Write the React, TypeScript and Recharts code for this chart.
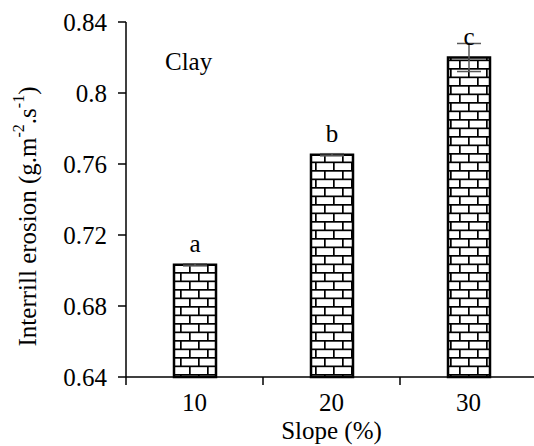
import { Bar, BarChart, Customized, ErrorBar, LabelList, XAxis, YAxis } from "recharts";

const slopes = ["10", "20", "30"];
const erosion = [0.7032, 0.7652, 0.82];
const errors = [0.0006, 0.0006, 0.0079];
const letters = ["a", "b", "c"];
const yTicks = [0.64, 0.68, 0.72, 0.76, 0.8, 0.84];

const data = slopes.map((s, i) => ({
  slope: s,
  value: erosion[i],
  err: errors[i],
  letter: letters[i],
}));

const FONT = "Liberation Serif, Times New Roman, serif";
const FS = 25;
const CHART_W = 545;
const CHART_H = 446;
const Y_W = 126;
const M_RIGHT = 8;
const BAND = (CHART_W - Y_W - M_RIGHT) / slopes.length;

const XTick = (props: any) => {
  const { x, y, payload } = props;
  const axisY = y - 8;
  return (
    <g>
      <line x1={x - BAND / 2} x2={x - BAND / 2} y1={axisY} y2={axisY + 8} stroke="#000" strokeWidth={1.5} />
      <text x={x} y={y + 26} textAnchor="middle" fontFamily={FONT} fontSize={FS} fill="#000">
        {payload.value}
      </text>
    </g>
  );
};

const YLabel = (props: any) => {
  const { viewBox } = props;
  const cx = viewBox.x + 27;
  const cy = viewBox.y + viewBox.height / 2 + 17;
  return (
    <text
      x={cx}
      y={cy}
      transform={`rotate(-90 ${cx} ${cy})`}
      textAnchor="middle"
      dominantBaseline="central"
      fontFamily={FONT}
      fontSize={FS}
      fill="#000"
    >
      Interrill erosion (g.m
      <tspan fontSize={16} dy={-9}>-2</tspan>
      <tspan dy={9}>.s</tspan>
      <tspan fontSize={16} dy={-9}>-1</tspan>
      <tspan dy={9}>)</tspan>
    </text>
  );
};

const ClayNote = () => (
  <text x={165} y={70} fontFamily={FONT} fontSize={FS} fill="#000">
    Clay
  </text>
);

export default function App() {
  return (
    <div style={{ position: "absolute", left: 0, top: 0, width: 534, height: 446, overflow: "hidden", background: "#fff" }}>
      <svg width={0} height={0} style={{ position: "absolute" }}>
        <defs>
          <pattern id="brick" patternUnits="userSpaceOnUse" width={18} height={17}>
            <rect x={0} y={0} width={18} height={17} fill="#000" />
            <rect x={1.7} y={1.7} width={16.3} height={6.8} fill="#fff" />
            <rect x={-7.3} y={10.2} width={16.3} height={6.8} fill="#fff" />
            <rect x={10.7} y={10.2} width={16.3} height={6.8} fill="#fff" />
          </pattern>
        </defs>
      </svg>
      <BarChart
        width={CHART_W}
        height={CHART_H}
        data={data}
        margin={{ top: 22, right: M_RIGHT, left: 0, bottom: 0 }}
        barSize={42}
      >
        <XAxis
          dataKey="slope"
          height={69}
          axisLine={{ stroke: "#000", strokeWidth: 1.5 }}
          tickLine={false}
          tickSize={8}
          tickMargin={0}
          tick={<XTick />}
          interval={0}
          label={{ value: "Slope (%)", position: "insideBottom", offset: 7, fontFamily: FONT, fontSize: FS, fill: "#000" }}
        />
        <YAxis
          width={Y_W}
          domain={[0.64, 0.84]}
          ticks={yTicks}
          interval={0}
          axisLine={{ stroke: "#000", strokeWidth: 1.5 }}
          tickLine={{ stroke: "#000", strokeWidth: 1.5 }}
          tickSize={8}
          tickMargin={11}
          tick={{ fontFamily: FONT, fontSize: FS, fill: "#000" }}
          label={<YLabel />}
        />
        <Bar dataKey="value" fill="url(#brick)" stroke="#000" strokeWidth={2.5} isAnimationActive={false}>
          <ErrorBar dataKey="err" width={12} strokeWidth={1.5} stroke="#595959" direction="y" />
          <LabelList dataKey="letter" position="top" offset={13} fontFamily={FONT} fontSize={FS} fill="#000" />
        </Bar>
        <Customized component={ClayNote} />
      </BarChart>
    </div>
  );
}
